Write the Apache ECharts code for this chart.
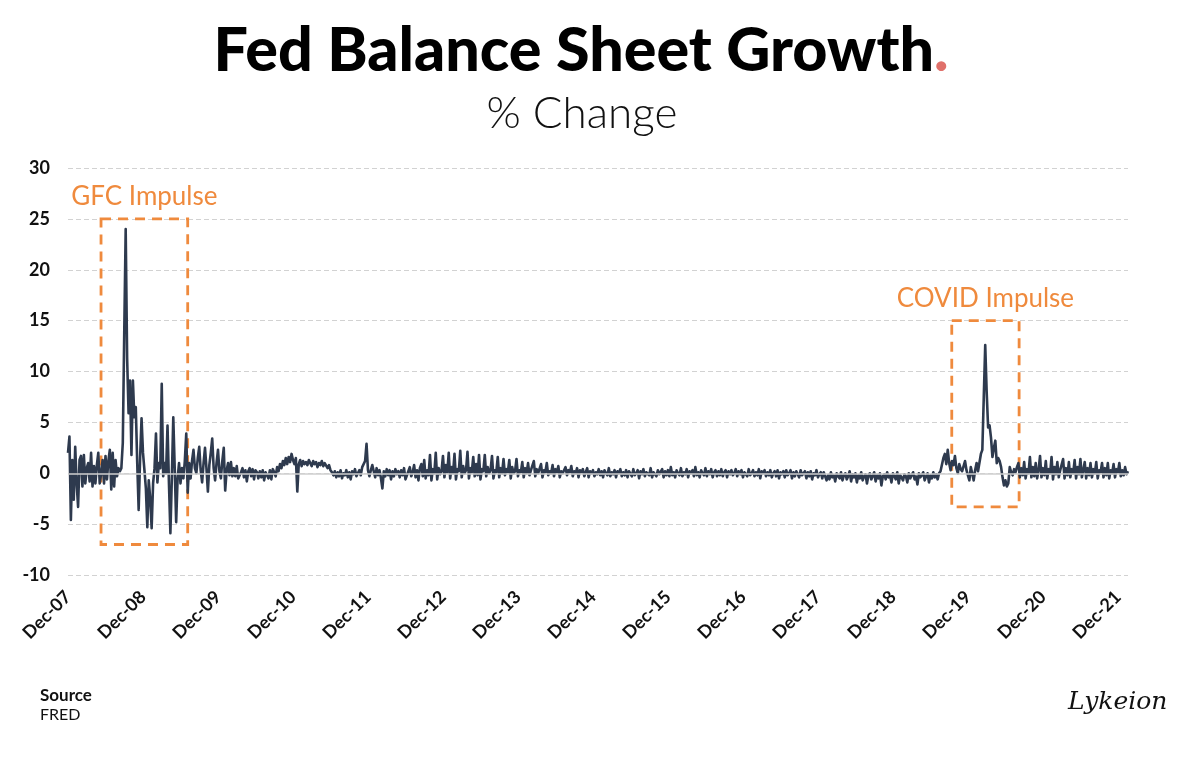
<!DOCTYPE html>
<html>
<head>
<meta charset="utf-8">
<script src="https://cdn.jsdelivr.net/npm/echarts@6/dist/echarts.min.js"></script>
<style>
html,body{margin:0;padding:0;background:#fff;}
#chart{width:1200px;height:769px;}
</style>
</head>
<body>
<div id="chart"></div>
<script>
// Weekly % change of the Fed balance sheet
const values = [
 // pre-GFC
 2.0,3.6,-4.6,1.3,-2.6,2.6,-1.0,-3.3,1.3,1.7,
 -1.3,1.8,-1.0,0.5,1.0,-0.8,2.0,-1.3,0.7,-1.0,
 0.8,2.0,-1.0,0.0,1.3,-1.0,1.7,-0.6,1.2,2.3,
 -1.6,2.0,-1.3,1.3,-0.3,0.5,0.2,
 // GFC impulse
 0.5,3.0,13.8,24.0,11.3,5.9,9.1,1.8,9.1,5.5,
 6.5,1.0,-3.6,1.5,5.4,2.0,0.3,-1.5,-5.3,-0.7,
 -2.5,-5.4,-1.0,0.5,3.9,-0.9,1.0,0.5,8.8,-0.3,
 1.0,0.0,4.7,-1.0,-5.9,-0.5,5.5,0.5,-4.8,-0.5,
 1.0,-1.0,0.5,-0.5,1.2,3.9,-1.9,1.0,-0.5,1.2,
 2.3,0.5,0.0,1.5,2.6,0.3,-0.9,1.0,2.5,0.5,
 -1.8,0.8,2.0,3.4,0.5,-0.7,1.0,2.3,0.2,-0.5,
 1.2,2.5,-1.7,0.3,1.0,-0.2,1.1,-0.3,
 // 2009-2010
 0.5,-0.3,0.7,-0.5,-0.6,0.1,0.5,-0.4,
 0.3,-0.8,0.2,0.5,-0.3,0.4,-0.6,0.3,0.1,-0.5,
 0.2,-0.4,0.3,-0.7,0.1,-0.2,-0.5,0.3,-0.6,0.4,
 0.1,-0.3,0.6,0.2,0.9,0.5,
 1.2,0.8,1.5,0.9,1.6,1.1,1.9,1.3,0.9,1.5,
 -1.8,
 0.9,1.3,0.7,1.2,0.9,1.1,0.8,1.3,1.0,0.7,1.2,0.9,1.1,0.6,1.0,0.8,1.2,0.7,1.0,0.9,0.5,0.8,0.3,0.1,
 -0.2,0.2,-0.4,0.1,-0.3,0.3,-0.5,0.0,-0.2,0.3,-0.4,0.1,-0.6,0.2,-0.1,0.4,-0.3,0.0,0.3,-0.2,0.6,
 0.5,1.2,2.9,0.3,
 -0.3,0.3,0.8,0.2,-0.4,0.5,-0.2,0.3,-0.5,-1.5,0.2,-0.3,0.4,-0.2,0.3,-0.6,0.2,-0.3,0.4,-0.1,0.2,-0.4,
 0.3,-0.2,0.5,-0.6,-0.5,0.2,0.6,-0.3,0.1,0.8,-0.4,0.3,-0.7,0.5,0.9,-0.3,
 // QE3 era
 1.3,-0.5,0.3,-0.2, 1.8,-0.7,0.4,0.0, 2.0,-0.6,0.5,-0.1,0.2, 1.7,-0.4,0.8,0.1,
 2.0,-0.5,0.6,0.0, 1.9,-0.6,0.4,0.2, 2.2,-0.4,0.7,0.0,0.3, 2.1,-0.5,0.5,0.1,
 1.6,-0.3,0.9,-0.2, 1.8,-0.6,0.4,0.2, 1.8,-0.3,0.6,0.0,0.3, 1.7,-0.5,0.3,0.1,
 1.6,-0.4,0.5,0.0, 1.4,-0.2,0.4,0.1, 1.3,-0.5,0.6,0.0,0.2, 1.4,-0.3,0.3,0.1,
 1.1,-0.4,0.5,0.0, 1.0,-0.2,0.3,0.2, 1.2,-0.3,0.4,0.0,0.1, 0.9,-0.4,0.3,0.1,
 1.0,-0.2,0.2,0.0, 0.8,-0.3,0.4,0.1, 0.7,-0.4,0.2,0.0,0.1, 0.6,-0.2,0.3,0.1,
 0.7,-0.3,0.2,0.0, 0.5,-0.4,0.3,0.1,
 // flat 2014-2017
 0.4,-0.3,-0.2,0.5,-0.4,0.2,0.0,0.3,-0.3,0.1,-0.1,
 0.4,-0.2,0.2,-0.4,0.3,0.0,-0.2,0.5,-0.3,0.1,-0.1,0.3,
 -0.4,0.2,0.0,0.4,-0.3,0.1,-0.2,0.3,-0.4,0.2,0.1,-0.3,
 0.4,-0.2,0.0,0.3,-0.5,0.2,-0.1,0.4,-0.3,0.1,0.0,-0.2,
 0.5,-0.4,0.1,0.2,-0.3,0.3,-0.1,0.0,0.4,-0.4,0.2,-0.2,
 0.3,-0.3,0.6,-0.2,0.1,-0.4,0.3,0.0,-0.2,0.5,-0.3,0.1,
 -0.1,0.4,-0.4,0.2,0.0,0.3,-0.3,0.6,-0.2,0.1,-0.4,0.3,
 0.0,-0.2,0.5,-0.3,0.2,-0.1,0.4,-0.4,0.1,0.3,-0.3,
 0.2,-0.2,0.4,-0.3,0.1,0.3,-0.4,0.2,-0.1,0.3,-0.2,0.0,
 0.4,-0.3,0.2,-0.1,0.3,-0.4,0.1,0.2,-0.3,0.4,-0.2,0.0,
 0.3,-0.3,0.1,-0.2,0.4,-0.5,0.2,0.0,0.3,-0.3,0.1,-0.2,
 0.3,-0.4,0.0,0.2,-0.3,0.3,-0.5,0.1,-0.1,0.2,-0.4,0.3,
 -0.2,0.0,0.3,-0.5,0.1,-0.3,0.2,-0.1,-0.4,0.3,-0.2,0.0,
 0.2,-0.5,0.1,-0.3,0.2,-0.6,0.0,-0.2,0.3,-0.4,-0.1,0.1,
 // runoff 2018-2019
 -0.5,0.1,-0.3,-0.7,-0.2,-0.6,0.1,-0.4,-0.2,-0.8,0.0,
 -0.3,-0.5,0.1,-0.7,-0.2,0.0,-0.6,-0.3,0.2,-0.8,-0.1,-0.4,
 0.0,-0.9,-0.2,-0.5,0.1,-0.7,-0.3,-0.1,-1.0,-0.2,0.0,-0.6,
 -0.3,0.1,-0.8,-0.2,-0.5,0.0,-1.2,-0.3,-0.1,-0.6,0.1,-0.4,
 -0.2,-0.9,0.0,-0.3,-0.6,0.1,-1.0,-0.2,-0.4,-0.7,-0.1,
 -0.3,-0.9,0.0,-0.5,-0.2,0.1,-0.6,-0.3,-1.1,0.0,-0.4,-0.2,
 0.1,-0.7,-0.3,0.0,-0.9,-0.2,-0.5,0.1,-0.4,-0.1,-0.6,0.0,0.2,
 // repo + COVID impulse
 0.3,1.5,1.9,0.9,2.3,1.0,0.3,1.2,0.8,1.7,
 0.5,0.0,0.9,0.4,0.2,0.7,1.2,0.3,-0.2,-0.7,
 0.6,0.5,-0.7,0.3,1.0,0.2,0.2,1.9,2.3,7.5,
 12.6,8.0,4.5,4.7,3.5,1.6,2.5,3.2,1.0,1.5,
 1.2,0.6,-0.4,-1.2,-0.7,-1.3,-1.0,0.6,0.1,-0.2,
 0.4,0.1,0.6,
 // 2020-2021
 1.0,-0.4,0.5,-0.2, 1.1,-0.5,0.4,0.0, 1.6,-0.4,0.6,-0.3, 1.0,-0.5,0.3,
 1.7,-0.4,0.5,-0.2, 1.2,-0.5,0.4,0.0, 1.6,-0.6,0.6,-0.1, 1.1,-0.4,0.3,0.2,
 1.4,-0.5,0.5,-0.2, 1.1,-0.4,0.4,0.0, 1.3,-0.5,0.6,-0.1, 1.4,-0.4,0.3,
 1.1,-0.5,0.5,-0.2, 1.0,-0.4,0.4,0.0, 1.1,-0.5,0.3,0.1, 1.0,-0.4,0.5,-0.2,
 1.0,-0.5,0.3,0.0, 0.9,-0.4,0.4,0.1, 1.0,-0.3,0.3,-0.2, 0.6,-0.1,0.2
];

const tickLabels = ['Dec-07','Dec-08','Dec-09','Dec-10','Dec-11','Dec-12','Dec-13','Dec-14',
                    'Dec-15','Dec-16','Dec-17','Dec-18','Dec-19','Dec-20','Dec-21'];
const firstTickWeek = 0;       // week index of the first "Dec-07" label
const weeksPerLabel = 52;
const tickWeeks = tickLabels.map((_, k) => firstTickWeek + weeksPerLabel * k);

const yTicks = [-10, -5, 0, 5, 10, 15, 20, 25, 30];

// annotation boxes in data space: [weekStart, weekEnd, yTop, yBottom]
const gfcBox = [22.9, 83.0, 25, -7];
const covidBox = [612.8, 659.5, 15, -3.3];

const chart = echarts.init(document.getElementById('chart'), null, {renderer: 'canvas'});
const orange = '#ef8a3d';
const fontMain = 'Lato, "Noto Sans", sans-serif';

chart.setOption({
  animation: false,
  backgroundColor: '#ffffff',
  title: [
    {
      text: 'Source', left: 35, top: 682,
      textStyle: {fontFamily: fontMain, fontWeight: 700, fontSize: 17, color: '#111'}
    },
    {
      text: 'FRED', left: 35, top: 702,
      textStyle: {fontFamily: fontMain, fontWeight: 400, fontSize: 16, color: '#111'}
    }
  ],
  graphic: [
    {
      type: 'text', x: 581, y: 51,
      style: {
        text: '{a|Fed Balance Sheet Growth}{b|.}',
        align: 'center', verticalAlign: 'middle',
        rich: {
          a: {fontFamily: fontMain, fontWeight: 900, fontSize: 61, fill: '#000', color: '#000'},
          b: {fontFamily: fontMain, fontWeight: 900, fontSize: 61, fill: '#e0706a', color: '#e0706a'}
        }
      }
    },
    {
      type: 'text', x: 582, y: 114,
      style: {
        text: '% Change', align: 'center', verticalAlign: 'middle',
        font: '300 44px Lato, "Noto Sans", sans-serif', fill: '#111'
      }
    },
    {
      type: 'text', x: 1068, y: 690,
      style: {text: 'Lykeion', font: 'italic 300 25px "DejaVu Serif", serif', fill: '#111'}
    }
  ],
  grid: {left: 68, right: 72, top: 168, bottom: 194, containLabel: false},
  xAxis: {
    type: 'value', min: 0, max: values.length - 1,
    axisLine: {show: false}, axisTick: {show: false}, splitLine: {show: false},
    axisLabel: {
      customValues: tickWeeks,
      rotate: 45, margin: 19,
      fontFamily: fontMain, fontWeight: 700, fontSize: 18, color: '#111',
      formatter: v => tickLabels[tickWeeks.indexOf(Math.round(v))] || ''
    }
  },
  yAxis: {
    type: 'value', min: yTicks[0], max: yTicks[yTicks.length - 1], interval: 5,
    axisLine: {show: false}, axisTick: {show: false},
    axisLabel: {margin: 18, fontFamily: fontMain, fontWeight: 700, fontSize: 18, color: '#111'},
    splitLine: {lineStyle: {color: '#d2d2d2', type: [5, 3], width: 1.2}}
  },
  series: [
    {
      type: 'line', data: [], z: 1, silent: true,
      markLine: {
        silent: true, symbol: 'none', label: {show: false},
        lineStyle: {color: '#cfcfcf', type: 'solid', width: 1.5},
        data: [{yAxis: 0}]
      },
      markArea: {
        silent: true,
        itemStyle: {color: 'rgba(0,0,0,0)', borderColor: orange, borderWidth: 2.8, borderType: [10, 7]},
        label: {show: true, position: 'top', distance: 8, color: orange, fontSize: 26, fontFamily: fontMain, fontWeight: 400},
        data: [
          [{name: 'GFC Impulse', xAxis: gfcBox[0], yAxis: gfcBox[2]}, {xAxis: gfcBox[1], yAxis: gfcBox[3]}],
          [{name: 'COVID Impulse', xAxis: covidBox[0], yAxis: covidBox[2]}, {xAxis: covidBox[1], yAxis: covidBox[3]}]
        ]
      }
    },
    {
      type: 'line', z: 3, symbol: 'none', silent: true,
      data: values.map((v, i) => [i, v]),
      lineStyle: {color: '#2e3a4e', width: 2.6, join: 'round'}
    }
  ]
});
</script>
</body>
</html>
